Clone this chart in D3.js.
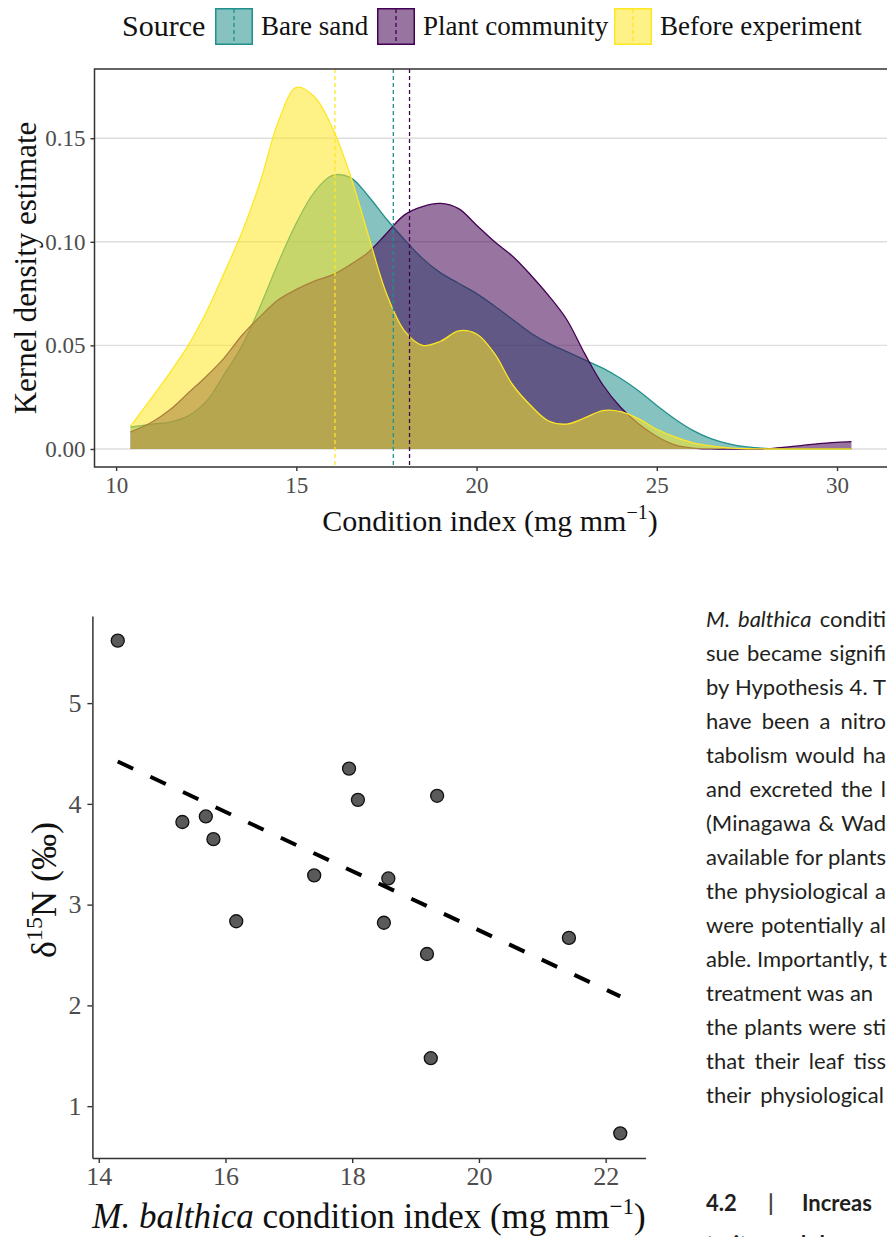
<!DOCTYPE html>
<html><head><meta charset="utf-8">
<script src="https://cdn.jsdelivr.net/npm/d3@7"></script>
<style>body{margin:0;background:#fff}svg{display:block}</style>
</head><body><svg id="c" width="887" height="1237"></svg>
<script>
// ---------- data: density plot ----------
const sources = ["Bare sand", "Plant community", "Before experiment"];
const sourceColors = ["#21908C", "#440154", "#FDE725"];
const gridX = [10.4, 11, 11.5, 12, 12.5, 13, 13.5, 14, 14.5, 15, 15.5, 16, 16.5, 17, 17.5, 18, 18.5, 19, 19.5, 20,
  20.5, 21, 21.5, 22, 22.5, 23, 23.5, 24, 24.5, 25, 25.5, 26, 26.5, 27, 27.5, 28, 28.5, 29, 29.5, 30, 30.4];
const densityBare = [0.0106, 0.012, 0.013, 0.016, 0.023, 0.036, 0.050, 0.069, 0.090, 0.109, 0.124, 0.132, 0.131, 0.122, 0.111, 0.101, 0.092, 0.085, 0.080, 0.075,
  0.069, 0.0625, 0.056, 0.051, 0.047, 0.043, 0.039, 0.034, 0.028, 0.021, 0.0145, 0.009, 0.005, 0.0025, 0.001, 0.0003, 0, 0, 0, 0, 0];
const densityPlant = [0.0082, 0.013, 0.019, 0.027, 0.035, 0.044, 0.055, 0.064, 0.072, 0.077, 0.081, 0.084, 0.089, 0.095, 0.104, 0.113, 0.117, 0.1185, 0.116, 0.108,
  0.100, 0.093, 0.084, 0.074, 0.0625, 0.046, 0.031, 0.020, 0.012, 0.006, 0.002, 0.0004, 0, 0, 0, 0, 0.0008, 0.0016, 0.0026, 0.0032, 0.0035];
const densityBefore = [0.011, 0.025, 0.037, 0.050, 0.066, 0.085, 0.105, 0.129, 0.158, 0.1745, 0.170, 0.155, 0.132, 0.103, 0.075, 0.057, 0.050, 0.052, 0.057, 0.0555,
  0.046, 0.031, 0.021, 0.0135, 0.012, 0.015, 0.0185, 0.018, 0.0145, 0.0095, 0.0058, 0.003, 0.0015, 0.0005, 0.0001, 0, 0, 0, 0, 0, 0];
const sourceMeans = [17.69, 18.14, 16.07];
const densityTicksX = [10, 15, 20, 25, 30];
const densityTicksY = [0, 0.05, 0.10, 0.15];
const densityTickLabelsY = ["0.00", "0.05", "0.10", "0.15"];

// ---------- data: scatter ----------
const conditionIndex = [14.30, 15.32, 15.69, 15.81, 16.17, 17.40, 17.95, 18.09, 18.57, 18.50, 19.34, 19.18, 19.24, 21.42, 22.23];
const delta15N = [5.62, 3.82, 3.875, 3.65, 2.835, 3.29, 4.35, 4.04, 3.26, 2.82, 4.08, 2.51, 1.476, 2.67, 0.73];
const trendX = [14.30, 22.23];
const trendY = [4.42, 2.09];
const scatterTicksX = [14, 16, 18, 20, 22];
const scatterTicksY = [1, 2, 3, 4, 5];

// ---------- body text (visible part of each line) ----------
const bodyLines = [
  "sue became signifi",
  "by Hypothesis 4. T",
  "have been a nitro",
  "tabolism would ha",
  "and excreted the l",
  "(Minagawa & Wad",
  "available for plants",
  "the physiological a",
  "were potentially al",
  "able. Importantly, t",
  "treatment was an",
  "the plants were sti",
  "that their leaf tiss",
  "their physiological"
];
const headingParts = ["4.2", "|", "Increas"];
const nextHeadingLine = "traits and l";

const svg = d3.select("#c");
const serif = "'Liberation Serif','Times New Roman',serif";
const root = svg.append("g");

// ================= TOP: density =================
const P = {l: 94.5, r: 888, t: 69, b: 467};
const x1 = d3.scaleLinear().domain([9.4, 31.4]).range([P.l, 887.5]);
const y1 = d3.scaleLinear().domain([-0.0087, 0.1834]).range([P.b, P.t]);

root.append("g").selectAll("line").data(densityTicksY).join("line")
  .attr("x1", P.l).attr("x2", P.r).attr("y1", d => y1(d)).attr("y2", d => y1(d))
  .attr("stroke", "#dedede").attr("stroke-width", 1.4);

const seriesVals = [densityBare, densityPlant, densityBefore];
const crv = d3.curveCatmullRom.alpha(0.5);
seriesVals.forEach((vals, i) => {
  const pts = gridX.map((x, j) => [x, vals[j]]);
  const area = d3.area().x(d => x1(d[0])).y0(y1(0)).y1(d => y1(d[1])).curve(crv);
  const line = d3.line().x(d => x1(d[0])).y(d => y1(d[1])).curve(crv);
  root.append("path").attr("d", area(pts)).attr("fill", sourceColors[i]).attr("fill-opacity", 0.55);
  root.append("path").attr("d", line(pts)).attr("fill", "none").attr("stroke", sourceColors[i]).attr("stroke-width", 1.3);
});

root.append("g").selectAll("line").data(sourceMeans).join("line")
  .attr("x1", d => x1(d)).attr("x2", d => x1(d)).attr("y1", P.t).attr("y2", P.b)
  .attr("stroke", (d, i) => sourceColors[i]).attr("stroke-width", 1.3).attr("stroke-dasharray", "4,3");

root.append("rect").attr("x", P.l).attr("y", P.t).attr("width", P.r - P.l + 5).attr("height", P.b - P.t)
  .attr("fill", "none").attr("stroke", "#333").attr("stroke-width", 1.5);

const ax1 = root.append("g").attr("transform", `translate(0,${P.b})`)
  .call(d3.axisBottom(x1).tickValues(densityTicksX).tickSize(4).tickSizeOuter(0).tickPadding(6).tickFormat(d3.format("d")));
ax1.select(".domain").remove();
ax1.selectAll("line").attr("stroke", "#333").attr("stroke-width", 1.4);
ax1.selectAll("text").attr("font-family", serif).attr("font-size", 23).attr("fill", "#4d4d4d");

const ay1 = root.append("g").attr("transform", `translate(${P.l},0)`)
  .call(d3.axisLeft(y1).tickValues(densityTicksY).tickSize(4).tickSizeOuter(0).tickPadding(5)
    .tickFormat((d, i) => densityTickLabelsY[i]));
ay1.select(".domain").remove();
ay1.selectAll("line").attr("stroke", "#333").attr("stroke-width", 1.4);
ay1.selectAll("text").attr("font-family", serif).attr("font-size", 23).attr("fill", "#4d4d4d");

root.append("text").attr("transform", "translate(36,268) rotate(-90)").attr("text-anchor", "middle")
  .attr("font-family", serif).attr("font-size", 31).attr("fill", "#111").text("Kernel density estimate");

const xt1 = root.append("text").attr("x", 490).attr("y", 531).attr("text-anchor", "middle")
  .attr("font-family", serif).attr("font-size", 30).attr("fill", "#111");
xt1.append("tspan").text("Condition index (mg mm");
xt1.append("tspan").attr("font-size", 20).attr("dy", -12).text("\u22121");
xt1.append("tspan").attr("dy", 12).text(")");

// legend
const lg = root.append("g");
lg.append("text").attr("x", 122).attr("y", 36).attr("font-family", serif).attr("font-size", 30).attr("fill", "#111").text("Source");
const legX = [215, 377, 614];
sources.forEach((s, i) => {
  const g = lg.append("g").attr("transform", `translate(${legX[i]},8)`);
  g.append("rect").attr("x", 0.75).attr("y", 0.75).attr("width", 36.5).attr("height", 35.5)
    .attr("fill", sourceColors[i]).attr("fill-opacity", 0.55).attr("stroke", sourceColors[i]).attr("stroke-width", 1.5);
  g.append("line").attr("x1", 19).attr("x2", 19).attr("y1", 1).attr("y2", 36)
    .attr("stroke", sourceColors[i]).attr("stroke-width", 1.3).attr("stroke-dasharray", "4,3");
  lg.append("text").attr("x", legX[i] + 46).attr("y", 35).attr("font-family", serif).attr("font-size", 27)
    .attr("fill", "#111").text(s);
});

// ================= BOTTOM: scatter =================
const S = {l: 92.4, r: 645.6, t: 616, b: 1158};
const x2 = d3.scaleLinear().domain([13.9, 22.63]).range([S.l, S.r]);
const y2 = d3.scaleLinear().domain([0.4855, 5.8645]).range([S.b, S.t]);

const ax2 = root.append("g").attr("transform", `translate(0,${S.b})`)
  .call(d3.axisBottom(x2).tickValues(scatterTicksX).tickSize(5).tickSizeOuter(0).tickPadding(4).tickFormat(d3.format("d")));
ax2.select(".domain").attr("stroke", "#333").attr("stroke-width", 1.5);
ax2.selectAll("line").attr("stroke", "#333").attr("stroke-width", 1.4);
ax2.selectAll("text").attr("font-family", serif).attr("font-size", 26).attr("fill", "#4d4d4d");

const ay2 = root.append("g").attr("transform", `translate(${S.l},0)`)
  .call(d3.axisLeft(y2).tickValues(scatterTicksY).tickSize(5).tickSizeOuter(0).tickPadding(6).tickFormat(d3.format("d")));
ay2.select(".domain").attr("stroke", "#333").attr("stroke-width", 1.5);
ay2.selectAll("line").attr("stroke", "#333").attr("stroke-width", 1.4);
ay2.selectAll("text").attr("font-family", serif).attr("font-size", 26).attr("fill", "#4d4d4d");

root.append("line").attr("x1", x2(trendX[0])).attr("y1", y2(trendY[0])).attr("x2", x2(trendX[1])).attr("y2", y2(trendY[1]))
  .attr("stroke", "#000").attr("stroke-width", 4).attr("stroke-dasharray", "17,19");

root.append("g").selectAll("circle").data(conditionIndex).join("circle")
  .attr("cx", d => x2(d)).attr("cy", (d, i) => y2(delta15N[i])).attr("r", 6.5)
  .attr("fill", "#5a5a5a").attr("stroke", "#111").attr("stroke-width", 1.3);

const yt2 = root.append("text").attr("transform", "translate(56,890) rotate(-90)").attr("text-anchor", "middle")
  .attr("font-family", serif).attr("font-size", 36).attr("fill", "#111");
yt2.append("tspan").text("\u03b4");
yt2.append("tspan").attr("font-size", 24).attr("dy", -14).text("15");
yt2.append("tspan").attr("dy", 14).text("N (\u2030)");

const xt2 = root.append("text").attr("x", 369).attr("y", 1228).attr("text-anchor", "middle")
  .attr("font-family", serif).attr("font-size", 35).attr("fill", "#111");
xt2.append("tspan").attr("font-style", "italic").text("M. balthica");
xt2.append("tspan").text(" condition index (mg mm");
xt2.append("tspan").attr("font-size", 23).attr("dy", -14).text("\u22121");
xt2.append("tspan").attr("dy", 14).text(")");

// ================= body text =================
const sans = "Lato, 'Open Sans', sans-serif";
const TX = 706, edge = 886, firstBase = 627, pitch = 34;
const tx = root.append("g").attr("font-family", sans).attr("font-size", 22).attr("fill", "#231f20");
function justify(sel, target) {
  const w = sel.node().getComputedTextLength();
  const n = (sel.text().match(/ /g) || []).length;
  if (n > 0) sel.attr("word-spacing", Math.max(0, Math.min(14, (target - w) / n)));
}
const first = tx.append("text").attr("x", TX).attr("y", firstBase);
first.append("tspan").attr("font-style", "italic").text("M. balthica");
first.append("tspan").text(" conditi");
justify(first, edge - TX);
const lineTargets = bodyLines.map(s => s === "treatment was an" ? 157 : s === "their physiological" ? 178 : edge - TX);
tx.selectAll("text.l").data(bodyLines).join("text").attr("class", "l")
  .attr("x", TX).attr("y", (d, i) => firstBase + (i + 1) * pitch).text(d => d)
  .each(function(d, i) { justify(d3.select(this), lineTargets[i]); });

const headX = [706, 768, 802];
const hy = 1211;
headingParts.forEach((h, i) => {
  tx.append("text").attr("x", headX[i]).attr("y", hy).attr("font-weight", "bold").attr("font-size", 22)
    .attr("fill", h === "|" ? "#444" : "#231f20").text(h);
});
tx.append("text").attr("x", TX).attr("y", hy + 41).attr("font-weight", "bold").attr("font-size", 22)
  .attr("word-spacing", 8).text(nextHeadingLine);
</script></body></html>
